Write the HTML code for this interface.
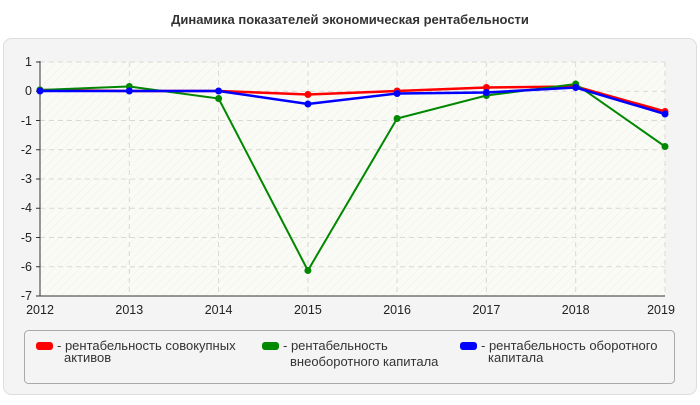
<!DOCTYPE html><html><head><meta charset="utf-8"><style>body{margin:0;background:#fff;font-family:"Liberation Sans",sans-serif}</style></head><body>
<svg width="700" height="400" xmlns="http://www.w3.org/2000/svg" font-family="Liberation Sans, sans-serif">
<defs><pattern id="h" width="6" height="6" patternUnits="userSpaceOnUse" patternTransform="rotate(45)"><rect width="6" height="6" fill="#fbfbf6"/><line x1="0" y1="0" x2="0" y2="6" stroke="#ececec" stroke-width="1"/></pattern></defs>
<text x="350" y="24" text-anchor="middle" font-size="13" font-weight="bold" fill="#333">Динамика показателей экономическая рентабельности</text>
<rect x="3.5" y="38.5" width="693" height="356" rx="8" fill="#f4f4f4" stroke="#ddd"/>
<rect x="40" y="62" width="625" height="234" fill="url(#h)"/>
<g stroke="#d8d8d8" stroke-dasharray="5,4">
<line x1="40" x2="665" y1="62" y2="62"/><line x1="40" x2="665" y1="91.25" y2="91.25"/><line x1="40" x2="665" y1="120.5" y2="120.5"/><line x1="40" x2="665" y1="149.75" y2="149.75"/><line x1="40" x2="665" y1="179" y2="179"/><line x1="40" x2="665" y1="208.25" y2="208.25"/><line x1="40" x2="665" y1="237.5" y2="237.5"/><line x1="40" x2="665" y1="266.75" y2="266.75"/>
<line x1="129.3" x2="129.3" y1="62" y2="296"/><line x1="218.6" x2="218.6" y1="62" y2="296"/><line x1="307.9" x2="307.9" y1="62" y2="296"/><line x1="397.1" x2="397.1" y1="62" y2="296"/><line x1="486.4" x2="486.4" y1="62" y2="296"/><line x1="575.7" x2="575.7" y1="62" y2="296"/><line x1="665" x2="665" y1="62" y2="296"/>
</g>
<g stroke="#333"><line x1="40" y1="61" x2="40" y2="296"/><line x1="40" y1="296" x2="665" y2="296"/>
<line x1="36" x2="40" y1="62" y2="62"/><line x1="36" x2="40" y1="91.25" y2="91.25"/><line x1="36" x2="40" y1="120.5" y2="120.5"/><line x1="36" x2="40" y1="149.75" y2="149.75"/><line x1="36" x2="40" y1="179" y2="179"/><line x1="36" x2="40" y1="208.25" y2="208.25"/><line x1="36" x2="40" y1="237.5" y2="237.5"/><line x1="36" x2="40" y1="266.75" y2="266.75"/><line x1="36" x2="40" y1="296" y2="296"/></g>
<g font-size="12.5" fill="#222" text-anchor="end"><text x="32" y="66">1</text><text x="32" y="95">0</text><text x="32" y="125">-1</text><text x="32" y="154">-2</text><text x="32" y="183">-3</text><text x="32" y="212">-4</text><text x="32" y="242">-5</text><text x="32" y="271">-6</text><text x="32" y="300">-7</text></g>
<g font-size="12.5" fill="#222" text-anchor="middle"><text x="40" y="314">2012</text><text x="129.3" y="314">2013</text><text x="218.6" y="314">2014</text><text x="307.9" y="314">2015</text><text x="397.1" y="314">2016</text><text x="486.4" y="314">2017</text><text x="575.7" y="314">2018</text><text x="661" y="314">2019</text></g>
<g fill="none" stroke-width="2.5">
<polyline stroke="#f00" points="40,90 129.3,91 218.6,91 307.9,94.5 397.1,91 486.4,87.5 575.7,86.5 665,111.5"/>
<polyline stroke="#080" stroke-width="2" points="40,90 129.3,86.5 218.6,98.5 307.9,270.5 397.1,118.5 486.4,95.5 575.7,84 665,146.5"/>
<polyline stroke="#00f" points="40,91 129.3,91 218.6,91 307.9,104 397.1,93.5 486.4,92.5 575.7,87.5 665,114"/>
</g>
<g fill="#f00"><circle cx="40" cy="90" r="3.5"/><circle cx="307.9" cy="94.5" r="3.5"/><circle cx="397.1" cy="91" r="3.5"/><circle cx="486.4" cy="87.5" r="3.5"/><circle cx="575.7" cy="86.5" r="3.5"/><circle cx="665" cy="111.5" r="3.5"/></g>
<g fill="#080"><circle cx="40" cy="90" r="3.5"/><circle cx="129.3" cy="86.5" r="3.5"/><circle cx="218.6" cy="98.5" r="3.5"/><circle cx="307.9" cy="270.5" r="3.5"/><circle cx="397.1" cy="118.5" r="3.5"/><circle cx="486.4" cy="95.5" r="3.5"/><circle cx="575.7" cy="84" r="3.5"/><circle cx="665" cy="146.5" r="3.5"/></g>
<g fill="#00f"><circle cx="40" cy="91" r="3.5"/><circle cx="129.3" cy="91" r="3.5"/><circle cx="218.6" cy="91" r="3.5"/><circle cx="307.9" cy="104" r="3.5"/><circle cx="397.1" cy="93.5" r="3.5"/><circle cx="486.4" cy="92.5" r="3.5"/><circle cx="575.7" cy="87.5" r="3.5"/><circle cx="665" cy="114" r="3.5"/></g>
<rect x="24.5" y="330.5" width="650" height="53" rx="4" fill="#f4f4f4" stroke="#aaa"/>
<g font-size="13" fill="#333">
<rect x="36" y="342" width="17" height="8" rx="3" fill="#f00"/><text x="57" y="350">- рентабельность совокупных</text><text x="64" y="362">активов</text>
<rect x="262" y="342" width="17" height="8" rx="3" fill="#080"/><text x="283" y="350">- рентабельность</text><text x="290" y="366">внеоборотного капитала</text>
<rect x="460" y="342" width="17" height="8" rx="3" fill="#00f"/><text x="481" y="350">- рентабельность оборотного</text><text x="488" y="362">капитала</text>
</g>
</svg></body></html>
